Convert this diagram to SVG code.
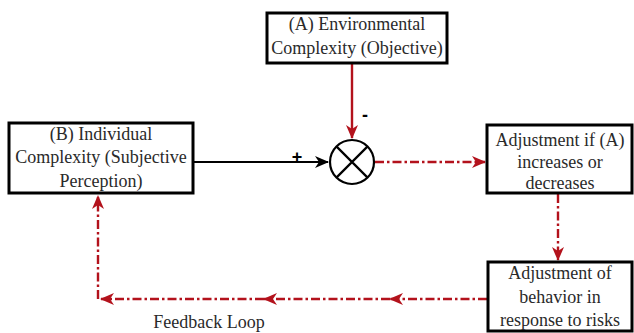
<svg xmlns="http://www.w3.org/2000/svg" width="634" height="333" viewBox="0 0 634 333">
<style>
.box{fill:#fff;stroke:#000;stroke-width:3}
.t{font-family:"Liberation Serif","Times New Roman",serif;font-size:18px;fill:#2a2a2a;text-anchor:middle}
.red{fill:none;stroke:#b3121c;stroke-width:2.4}
.dd{stroke-dasharray:9 3 2.5 3}
.blk{fill:none;stroke:#000;stroke-width:2}
.sign{font-family:"Liberation Sans",Arial,sans-serif;font-weight:bold;font-size:18px;fill:#000;text-anchor:middle}
</style>
<defs>
<marker id="ar" viewBox="0 0 14 12" refX="13" refY="6" markerWidth="14" markerHeight="12" markerUnits="userSpaceOnUse" orient="auto">
<path d="M0,0 L14,6 L0,12 L4,6 z" fill="#b3121c"/>
</marker>
<marker id="ab" viewBox="0 0 14 12" refX="13" refY="6" markerWidth="14" markerHeight="12" markerUnits="userSpaceOnUse" orient="auto">
<path d="M0,0 L14,6 L0,12 L4,6 z" fill="#000"/>
</marker>
</defs>
<g id="connectors">
<path class="red" d="M352,63 L352,138" marker-end="url(#ar)"/>
<path class="blk" d="M193,162 L328,162" marker-end="url(#ab)"/>
<path class="red dd" d="M375,162 L485,162" marker-end="url(#ar)"/>
<path class="red dd" d="M558,194 L558,260" marker-end="url(#ar)"/>
<path class="red dd" d="M487,299 L390,299" marker-end="url(#ar)"/>
<path class="red dd" d="M390,299 L264,299" marker-end="url(#ar)"/>
<path class="red dd" d="M264,299 L101,299" marker-end="url(#ar)"/>
<path class="red dd" d="M98,299 L98,196" marker-end="url(#ar)"/>
<text class="sign" x="365" y="121">-</text>
<text class="sign" x="297" y="163">+</text>
</g>
<g id="nodeA">
<rect class="box" x="267" y="13" width="180" height="50"/>
<text class="t" x="357" y="30">(A) Environmental</text>
<text class="t" x="357" y="54">Complexity (Objective)</text>
</g>
<g id="nodeB">
<rect class="box" x="9" y="123" width="184" height="70"/>
<text class="t" x="101" y="140">(B) Individual</text>
<text class="t" x="101" y="163">Complexity (Subjective</text>
<text class="t" x="101" y="187">Perception)</text>
</g>
<g id="comparator">
<circle cx="352" cy="162" r="22" fill="#fff" stroke="#000" stroke-width="2.2"/>
<path d="M336.4,146.4 L367.6,177.6 M367.6,146.4 L336.4,177.6" stroke="#000" stroke-width="2.2"/>
</g>
<g id="nodeC">
<rect class="box" x="487" y="125" width="145" height="68"/>
<text class="t" x="560" y="146">Adjustment if (A)</text>
<text class="t" x="560" y="168">increases or</text>
<text class="t" x="560" y="189">decreases</text>
</g>
<g id="nodeD">
<rect class="box" x="488" y="262" width="144" height="69"/>
<text class="t" x="560" y="279">Adjustment of</text>
<text class="t" x="560" y="303">behavior in</text>
<text class="t" x="560" y="326">response to risks</text>
</g>
<text class="t" x="209" y="328">Feedback Loop</text>
</svg>
